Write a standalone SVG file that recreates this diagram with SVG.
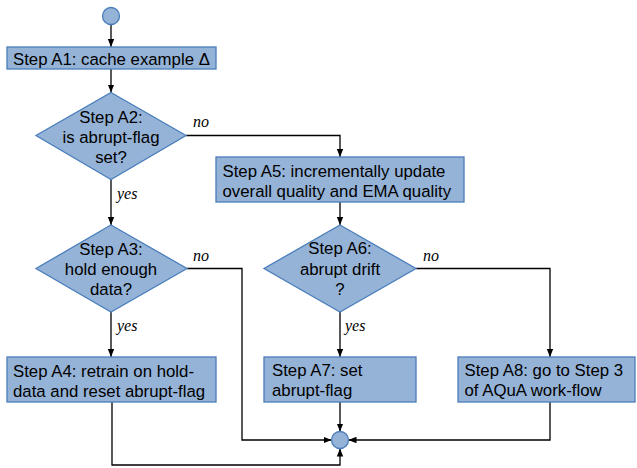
<svg xmlns="http://www.w3.org/2000/svg" width="637" height="468" viewBox="0 0 637 468">
<style>
.box{fill:#95b3d7;stroke:#4a7ebb;stroke-width:1.3}
.t{font-family:"Liberation Sans",Arial,sans-serif;font-size:16.8px;fill:#000}
.c{text-anchor:middle}
.lbl{font-family:"Liberation Serif","Times New Roman",serif;font-style:italic;font-size:16px;fill:#000}
.ln{fill:none;stroke:#000;stroke-width:1.3}
</style>
<defs>
<marker id="ah" markerUnits="userSpaceOnUse" markerWidth="8" markerHeight="8" viewBox="0 0 8 8" refX="8" refY="4" orient="auto">
<path d="M0,0.8 L8,4 L0,7.2 Z" fill="#000"/>
</marker>
</defs>
<rect width="637" height="468" fill="#fff"/>
<g id="connectors">
<path class="ln" d="M111,24.5 V47" marker-end="url(#ah)"/>
<path class="ln" d="M111,69 V92.5" marker-end="url(#ah)"/>
<path class="ln" d="M186,135.5 H340 V157" marker-end="url(#ah)"/>
<path class="ln" d="M111,179.5 V225" marker-end="url(#ah)"/>
<path class="ln" d="M340,202 V225" marker-end="url(#ah)"/>
<path class="ln" d="M111,312 V357" marker-end="url(#ah)"/>
<path class="ln" d="M187,268.5 H242 V440 H331.5" marker-end="url(#ah)"/>
<path class="ln" d="M340,312 V357" marker-end="url(#ah)"/>
<path class="ln" d="M416,268.5 H550 V357" marker-end="url(#ah)"/>
<path class="ln" d="M112,402 V465 H340 V448.5" marker-end="url(#ah)"/>
<path class="ln" d="M340,402 V431.5" marker-end="url(#ah)"/>
<path class="ln" d="M550,402 V440 H348.5" marker-end="url(#ah)"/>
<text class="lbl" x="193" y="127">no</text>
<text class="lbl" x="117" y="199">yes</text>
<text class="lbl" x="193" y="261">no</text>
<text class="lbl" x="117" y="331">yes</text>
<text class="lbl" x="423" y="261">no</text>
<text class="lbl" x="345" y="331">yes</text>
</g>
<g id="start"><circle class="box" cx="111" cy="16" r="8.5"/></g>
<g id="A1"><rect class="box" x="7" y="47" width="209" height="22"/>
<text class="t" x="13" y="65">Step A1: cache example Δ</text></g>
<g id="A2"><polygon class="box" points="111,92.5 186,135.5 111,179.5 36,135.5"/>
<text class="t c" x="111" y="123">Step A2:</text>
<text class="t c" x="111" y="143">is abrupt-flag</text>
<text class="t c" x="111" y="163">set?</text></g>
<g id="A5"><rect class="box" x="216" y="157" width="248" height="45"/>
<text class="t" x="222.5" y="177">Step A5: incrementally update</text>
<text class="t" x="222.5" y="196.5">overall quality and EMA quality</text></g>
<g id="A3"><polygon class="box" points="111,225 187,268.5 111,312 36,268.5"/>
<text class="t c" x="111" y="255">Step A3:</text>
<text class="t c" x="111" y="275">hold enough</text>
<text class="t c" x="111" y="295">data?</text></g>
<g id="A6"><polygon class="box" points="340,225 416,268.5 340,312 264,268.5"/>
<text class="t c" x="340" y="254">Step A6:</text>
<text class="t c" x="340" y="275">abrupt drift</text>
<text class="t c" x="340" y="295">?</text></g>
<g id="A4"><rect class="box" x="7" y="357" width="209" height="45"/>
<text class="t" x="13" y="376.5">Step A4: retrain on hold-</text>
<text class="t" x="13" y="396.5">data and reset abrupt-flag</text></g>
<g id="A7"><rect class="box" x="264" y="357" width="152" height="45"/>
<text class="t" x="272" y="376">Step A7: set</text>
<text class="t" x="272" y="396">abrupt-flag</text></g>
<g id="A8"><rect class="box" x="458" y="357" width="177" height="45"/>
<text class="t" x="464.5" y="376">Step A8: go to Step 3</text>
<text class="t" x="464.5" y="396">of AQuA work-flow</text></g>
<g id="end"><circle class="box" cx="340" cy="440" r="8.5"/></g>
</svg>
